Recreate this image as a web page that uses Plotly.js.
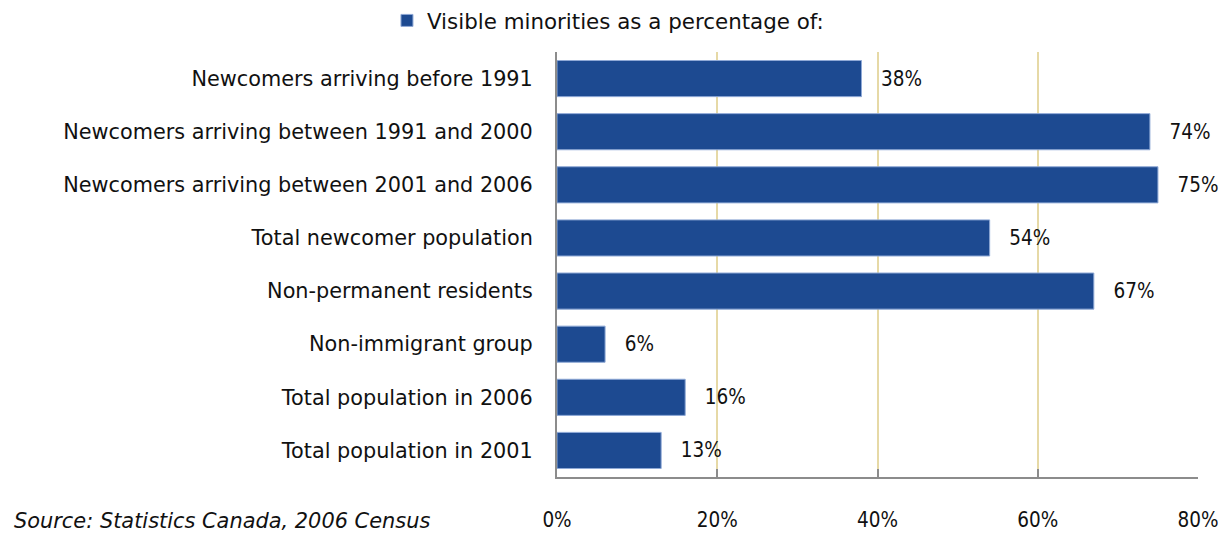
<!DOCTYPE html>
<html>
<head>
<meta charset="utf-8">
<script src="https://cdn.plot.ly/plotly-3.0.1.min.js"></script>
<style>html,body{margin:0;padding:0;background:#fff}#chart{width:1223px;height:535px}</style>
</head>
<body>
<div id="chart"></div>
<script>
const categories = [
  "Newcomers arriving before 1991",
  "Newcomers arriving between 1991 and 2000",
  "Newcomers arriving between 2001 and 2006",
  "Total newcomer population",
  "Non-permanent residents",
  "Non-immigrant group",
  "Total population in 2006",
  "Total population in 2001"
];
const values = [38, 74, 75, 54, 67, 6, 16, 13];
const valueLabels = ["38%", "74%", "75%", "54%", "67%", "6%", "16%", "13%"];
const xTicks = [0, 20, 40, 60, 80];
const xTickLabels = ["0%", "20%", "40%", "60%", "80%"];
const seriesName = "Visible minorities as a percentage of:";
const sourceText = "Source: Statistics Canada, 2006 Census";

const FONT = "DejaVu Sans, sans-serif";
const NUMFONT = "Liberation Sans Narrow, DejaVu Sans Condensed, sans-serif";

const trace = {
  type: "bar",
  orientation: "h",
  name: seriesName,
  y: categories,
  x: values,
  text: valueLabels.map(t => "\u2002\u2009\u2009" + t),
  textposition: "outside",
  constraintext: "none",
  cliponaxis: false,
  textfont: {family: NUMFONT, size: 20.5, color: "#111"},
  marker: {color: "#1d4a91", line: {color: "#8fa9d6", width: 1}},
  hoverinfo: "none"
};

const layout = {
  width: 1223,
  height: 535,
  margin: {l: 557, r: 25, t: 52, b: 58},
  paper_bgcolor: "#fff",
  plot_bgcolor: "#fff",
  bargap: 0.32,
  font: {family: FONT, size: 18, color: "#111"},
  showlegend: true,
  legend: {
    orientation: "h",
    xref: "container", yref: "container",
    x: 0.3164, y: 1.0, xanchor: "left", yanchor: "top",
    font: {family: FONT, size: 21.4, color: "#111"},
    itemwidth: 30
  },
  xaxis: {
    range: [0, 80],
    tickvals: xTicks,
    ticktext: xTickLabels,
    showgrid: true,
    gridcolor: "#e6d9a6",
    gridwidth: 2,
    showline: true,
    linecolor: "#8c8c8c",
    linewidth: 2,
    ticks: "inside",
    ticklen: 8,
    tickcolor: "#8c8c8c",
    tickwidth: 2,
    ticklabelstandoff: 23,
    zeroline: false,
    tickfont: {family: NUMFONT, size: 20.5, color: "#111"},
    fixedrange: true
  },
  yaxis: {
    autorange: "reversed",
    showline: true,
    linecolor: "#8c8c8c",
    linewidth: 2,
    ticks: "",
    showgrid: false,
    ticklabelstandoff: 18,
    tickfont: {family: FONT, size: 20.8, color: "#111"},
    fixedrange: true
  },
  annotations: [{
    xref: "paper", yref: "paper",
    x: -557/641 + 12/641, y: -0.07,
    xanchor: "left", yanchor: "top",
    text: "<i>" + sourceText + "</i>",
    showarrow: false,
    font: {family: FONT, size: 20.9, color: "#111"}
  }]
};

Plotly.newPlot("chart", [trace], layout, {displayModeBar: false, staticPlot: true});
</script>
</body>
</html>
